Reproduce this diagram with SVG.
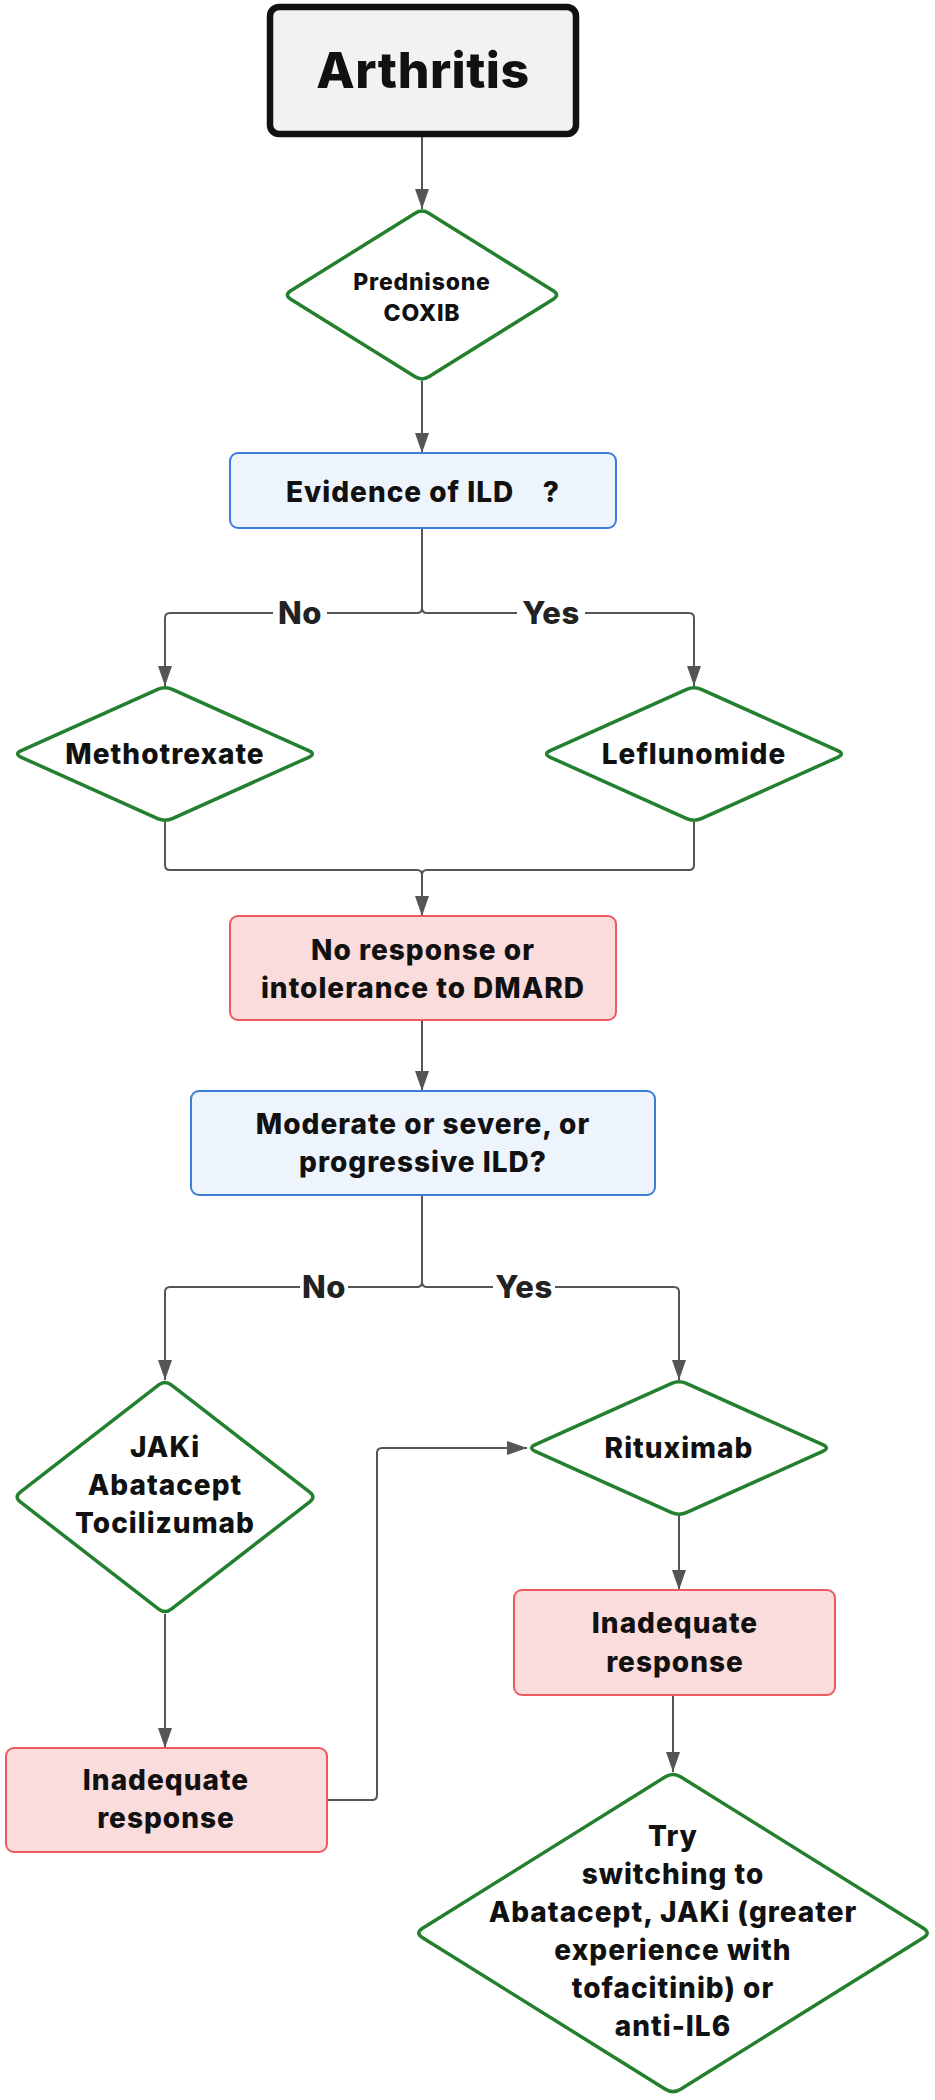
<svg xmlns="http://www.w3.org/2000/svg" width="935" height="2100" viewBox="0 0 935 2100">
<style>
.t{font-family:Inter,"Liberation Sans",sans-serif;font-weight:800;font-size:28px;letter-spacing:1px;text-anchor:middle;fill:#111}
.lbl{font-family:Inter,"Liberation Sans",sans-serif;font-weight:800;font-size:31px;letter-spacing:0.5px;text-anchor:middle;fill:#222}
.dia{fill:#fff;stroke:#22802f;stroke-width:3.5}
.blue{fill:#edf4fc;stroke:#3b7dd8;stroke-width:2}
.pink{fill:#fbdcdd;stroke:#ec5a60;stroke-width:2}
.con{fill:none;stroke:#555;stroke-width:2;marker-end:url(#arr)}
.con2{fill:none;stroke:#555;stroke-width:2}
</style>
<defs>
<marker id="arr" viewBox="0 0 20 14" refX="20" refY="7" markerWidth="20" markerHeight="14" markerUnits="userSpaceOnUse" orient="auto">
<path d="M0,0 L20,7 L0,14 Z" fill="#555"/>
</marker>
</defs>
<rect width="935" height="2100" fill="#fff"/>

<g id="connectors">
<path class="con" d="M422,137 V209"/>
<path class="con" d="M422,381 V453"/>
<path class="con" d="M422,528 V608 Q422,613 417,613 H327 M273,613 H170 Q165,613 165,618 V686"/>
<path class="con" d="M422,528 V608 Q422,613 427,613 H517 M585,613 H689 Q694,613 694,618 V686"/>
<path class="con2" d="M165,822 V865 Q165,870 170,870 H417 Q422,870 422,875 V916"/>
<path class="con" d="M694,822 V865 Q694,870 689,870 H427 Q422,870 422,875 V916"/>
<path class="con" d="M422,1020 V1091"/>
<path class="con" d="M422,1195 V1282 Q422,1287 417,1287 H348 M300,1287 H170 Q165,1287 165,1292 V1380"/>
<path class="con" d="M422,1195 V1282 Q422,1287 427,1287 H493 M555,1287 H674 Q679,1287 679,1292 V1380"/>
<path class="con" d="M165,1614 V1748"/>
<path class="con" d="M327,1800 H372 Q377,1800 377,1795 V1453 Q377,1448 382,1448 H527"/>
<path class="con" d="M679,1516 V1590"/>
<path class="con" d="M673,1695 V1772"/>
<text class="lbl" x="300" y="624">No</text>
<text class="lbl" x="551" y="624">Yes</text>
<text class="lbl" x="324" y="1298">No</text>
<text class="lbl" x="524" y="1298">Yes</text>
</g>

<g id="arthritis">
<rect x="270" y="7" width="306" height="127" rx="9" fill="#f2f2f2" stroke="#111" stroke-width="6.5"/>
<text class="t" x="423" y="88" style="font-size:50px;letter-spacing:0.5px">Arthritis</text>
</g>

<g id="prednisone">
<path class="dia" d="M415.2,213.2 Q422,209 428.8,213.2 L553.2,290.8 Q560,295 553.2,299.2 L428.8,376.8 Q422,381 415.2,376.8 L290.8,299.2 Q284,295 290.8,290.8 Z"/>
<text class="t" x="422" y="290" style="font-size:23px;letter-spacing:0.8px">Prednisone</text>
<text class="t" x="422" y="321" style="font-size:23px;letter-spacing:0.8px">COXIB</text>
</g>

<g id="evidence">
<rect class="blue" x="230" y="453" width="386" height="75" rx="8"/>
<text class="t" x="423" y="502" xml:space="preserve" style="white-space:pre">Evidence of ILD    ?</text>
</g>

<g id="methotrexate">
<path class="dia" d="M157.7,689.3 Q165,686 172.3,689.3 L308.7,750.7 Q316,754 308.7,757.3 L172.3,818.7 Q165,822 157.7,818.7 L21.3,757.3 Q14,754 21.3,750.7 Z"/>
<text class="t" x="165" y="764">Methotrexate</text>
</g>

<g id="leflunomide">
<path class="dia" d="M686.7,689.3 Q694,686 701.3,689.3 L837.7,750.7 Q845,754 837.7,757.3 L701.3,818.7 Q694,822 686.7,818.7 L550.3,757.3 Q543,754 550.3,750.7 Z"/>
<text class="t" x="694" y="764">Leflunomide</text>
</g>

<g id="no-response">
<rect class="pink" x="230" y="916" width="386" height="104" rx="8"/>
<text class="t" x="423" y="960">No response or</text>
<text class="t" x="423" y="998">intolerance to DMARD</text>
</g>

<g id="moderate">
<rect class="blue" x="191" y="1091" width="464" height="104" rx="8"/>
<text class="t" x="423" y="1134">Moderate or severe, or</text>
<text class="t" x="423" y="1172">progressive ILD?</text>
</g>

<g id="jaki">
<path class="dia" d="M158.7,1384.9 Q165,1380 171.3,1384.9 L309.7,1492.1 Q316,1497 309.7,1501.9 L171.3,1609.1 Q165,1614 158.7,1609.1 L20.3,1501.9 Q14,1497 20.3,1492.1 Z"/>
<text class="t" x="165" y="1457">JAKi</text>
<text class="t" x="165" y="1495">Abatacept</text>
<text class="t" x="165" y="1533">Tocilizumab</text>
</g>

<g id="rituximab">
<path class="dia" d="M671.7,1383.3 Q679,1380 686.3,1383.3 L822.7,1444.7 Q830,1448 822.7,1451.3 L686.3,1512.7 Q679,1516 671.7,1512.7 L535.3,1451.3 Q528,1448 535.3,1444.7 Z"/>
<text class="t" x="679" y="1458">Rituximab</text>
</g>

<g id="inadequate-right">
<rect class="pink" x="514" y="1590" width="321" height="105" rx="8"/>
<text class="t" x="675" y="1633">Inadequate</text>
<text class="t" x="675" y="1672">response</text>
</g>

<g id="inadequate-left">
<rect class="pink" x="6" y="1748" width="321" height="104" rx="8"/>
<text class="t" x="166" y="1790">Inadequate</text>
<text class="t" x="166" y="1828">response</text>
</g>

<g id="switching">
<path class="dia" d="M665.4,1776.8 Q673,1772 680.6,1776.8 L923.4,1928.2 Q931,1933 923.4,1937.8 L680.6,2089.2 Q673,2094 665.4,2089.2 L422.6,1937.8 Q415,1933 422.6,1928.2 Z"/>
<text class="t" x="673" y="1846">Try</text>
<text class="t" x="673" y="1884">switching to</text>
<text class="t" x="673" y="1922">Abatacept, JAKi (greater</text>
<text class="t" x="673" y="1960">experience with</text>
<text class="t" x="673" y="1998">tofacitinib) or</text>
<text class="t" x="673" y="2036">anti-IL6</text>
</g>
</svg>
